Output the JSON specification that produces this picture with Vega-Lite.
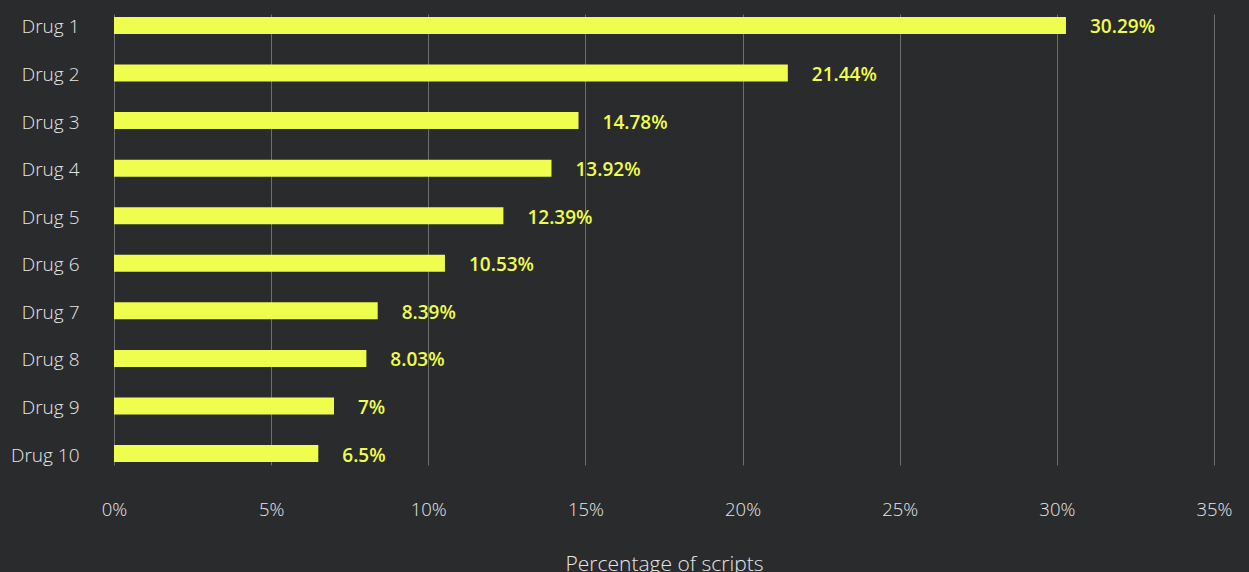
{
  "$schema": "https://vega.github.io/schema/vega-lite/v6.json",
  "width": 1100,
  "height": 451,
  "autosize": "none",
  "padding": {"left": 114, "top": 14, "right": 35, "bottom": 107},
  "background": "#2a2b2d",
  "config": {
    "view": {"stroke": null},
    "font": "Open Sans"
  },
  "data": {
    "values": [
      {"drug": "Drug 1", "value": 30.29},
      {"drug": "Drug 2", "value": 21.44},
      {"drug": "Drug 3", "value": 14.78},
      {"drug": "Drug 4", "value": 13.92},
      {"drug": "Drug 5", "value": 12.39},
      {"drug": "Drug 6", "value": 10.53},
      {"drug": "Drug 7", "value": 8.39},
      {"drug": "Drug 8", "value": 8.03},
      {"drug": "Drug 9", "value": 7},
      {"drug": "Drug 10", "value": 6.5}
    ]
  },
  "transform": [{"calculate": "datum.value + '%'", "as": "label"}],
  "encoding": {
    "y": {
      "field": "drug",
      "type": "nominal",
      "sort": null,
      "scale": {"paddingInner": 0.6426, "paddingOuter": 0.0628},
      "axis": {
        "title": null,
        "domain": false,
        "ticks": false,
        "grid": false,
        "labelPadding": 35,
        "labelOffset": 2,
        "labelFontSize": 19,
        "labelColor": "#e6e6e6",
        "labelFont": "Open Sans",
        "labelFontWeight": 300
      }
    },
    "x": {
      "field": "value",
      "type": "quantitative",
      "scale": {"domain": [0, 35], "nice": false},
      "axis": {
        "values": [0, 5, 10, 15, 20, 25, 30, 35],
        "labelExpr": "datum.value + '%'",
        "labelFlush": false,
        "labelOverlap": false,
        "title": "Percentage of scripts",
        "titleFont": "Open Sans",
        "titleFontSize": 21,
        "titleFontWeight": 300,
        "titleColor": "#e6e6e6",
        "titlePadding": 35,
        "domain": false,
        "ticks": false,
        "grid": true,
        "gridColor": "#6e6e70",
        "gridWidth": 1,
        "labelPadding": 35,
        "labelFont": "Open Sans",
        "labelFontSize": 18.5,
        "labelFontWeight": 300,
        "labelColor": "#e6e6e6"
      }
    }
  },
  "layer": [
    {"mark": {"type": "bar", "color": "#effd4e"}},
    {
      "mark": {"type": "text", "font": "Open Sans", "align": "left", "baseline": "middle", "dx": 24, "dy": 2, "fontSize": 19, "fontWeight": 600, "color": "#effd4e"},
      "encoding": {"text": {"field": "label"}}
    }
  ]
}
